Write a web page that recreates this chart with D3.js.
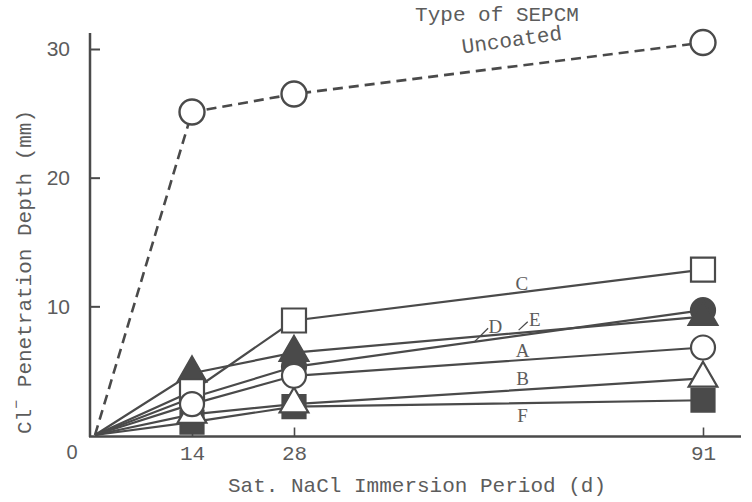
<!DOCTYPE html>
<html>
<head>
<meta charset="utf-8">
<script src="https://cdn.jsdelivr.net/npm/d3@7"></script>
<style>
  body { margin: 0; background: #fff; }
  svg { display: block; }
</style>
</head>
<body>
<svg id="chart" width="752" height="502"></svg>
<script>
// Chloride penetration depth vs. immersion period in saturated NaCl
const days = [0, 14, 28, 91];
const uncoated = [0, 25.1, 26.5, 30.5];
const seriesA = [0, 2.4, 4.6, 6.8];
const seriesB = [0, 1.6, 2.4, 4.4];
const seriesC = [0, 3.4, 8.9, 12.85];
const seriesD = [0, 2.9, 5.3, 9.7];
const seriesE = [0, 4.8, 6.4, 9.2];
const seriesF = [0, 1.0, 2.2, 2.7];
const seriesLabels = ["F", "B", "D", "E", "C", "A"];
const xTickValues = [14, 28, 91];
const yTickValues = [10, 20, 30];

const ink = "#4a4a4a";
const textInk = "#5c5c5c";
const mono = "'Liberation Mono', 'DejaVu Sans Mono', monospace";

const svg = d3.select("#chart");

// The time axis is drawn with uneven spacing between the sampling days
const x = d3.scaleLinear().domain([0, 14, 28, 91]).range([95, 192, 294, 703]);
const y = d3.scaleLinear().domain([0, 30]).range([435, 49]);

// Axis lines
svg.append("line").attr("x1", 90).attr("x2", 90).attr("y1", 33).attr("y2", 437)
  .attr("stroke", ink).attr("stroke-width", 2.5);
svg.append("line").attr("x1", 89).attr("x2", 741).attr("y1", 436.5).attr("y2", 436.5)
  .attr("stroke", ink).attr("stroke-width", 2.5);

// Y axis ticks (pointing inward) and labels
const yAxis = d3.axisLeft(y).tickValues(yTickValues).tickSize(-10).tickPadding(20).tickSizeOuter(0);
const gy = svg.append("g").attr("transform", "translate(90,0)").call(yAxis);
gy.select(".domain").remove();
gy.selectAll(".tick line").attr("stroke", ink).attr("stroke-width", 2);
gy.selectAll(".tick text").attr("fill", textInk)
  .style("font-family", "'Liberation Sans', Arial, sans-serif").style("font-size", "21px");

// X axis ticks (pointing inward) and labels
const xAxis = d3.axisBottom(x).tickValues(xTickValues).tickSize(-9).tickPadding(9).tickSizeOuter(0);
const gx = svg.append("g").attr("transform", "translate(0,436.5)").call(xAxis);
gx.select(".domain").remove();
gx.selectAll(".tick line").attr("stroke", ink).attr("stroke-width", 1.6);
gx.selectAll(".tick text").attr("fill", textInk)
  .style("font-family", mono).style("font-size", "21px");

// Origin label
svg.append("text").attr("x", 72).attr("y", 452).attr("text-anchor", "middle")
  .attr("dominant-baseline", "central").attr("fill", textInk)
  .style("font-family", "'Liberation Sans', Arial, sans-serif").style("font-size", "20px")
  .text("0");

// Axis titles
svg.append("text").attr("x", 417).attr("y", 486).attr("text-anchor", "middle")
  .attr("dominant-baseline", "central").attr("fill", textInk)
  .style("font-family", mono).style("font-size", "21px")
  .text("Sat. NaCl Immersion Period (d)");

const yTitle = svg.append("text")
  .attr("transform", "translate(25,272) rotate(-90)")
  .attr("text-anchor", "middle").attr("dominant-baseline", "central")
  .attr("fill", textInk).style("font-family", mono).style("font-size", "21px");
yTitle.append("tspan").text("Cl");
yTitle.append("tspan").attr("dy", -8).style("font-size", "15px").text("\u2212");
yTitle.append("tspan").attr("dy", 8).text(" Penetration Depth (mm)");

// Legend heading and uncoated label
svg.append("text").attr("x", 497).attr("y", 15).attr("text-anchor", "middle")
  .attr("dominant-baseline", "central").attr("fill", textInk)
  .style("font-family", mono).style("font-size", "21px").text("Type of SEPCM");
svg.append("text").attr("transform", "translate(512,41) rotate(-8)")
  .attr("text-anchor", "middle").attr("dominant-baseline", "central").attr("fill", textInk)
  .style("font-family", mono).style("font-size", "21px").text("Uncoated");

// Marker shapes
const wideTriangle = {
  draw(ctx, size) {
    const h = Math.sqrt(size);
    const w = h * 1.15;
    ctx.moveTo(0, -2 * h / 3);
    ctx.lineTo(w / 2, h / 3);
    ctx.lineTo(-w / 2, h / 3);
    ctx.closePath();
  }
};
const markers = {
  A: { type: d3.symbolCircle, size: Math.PI * 12 * 12, filled: false },
  B: { type: wideTriangle, size: 25 * 25, filled: false },
  C: { type: d3.symbolSquare, size: 24 * 24, filled: false },
  D: { type: d3.symbolCircle, size: Math.PI * 12 * 12, filled: true },
  E: { type: wideTriangle, size: 25 * 25, filled: true },
  F: { type: d3.symbolSquare, size: 23 * 23, filled: true }
};
const seriesValues = { A: seriesA, B: seriesB, C: seriesC, D: seriesD, E: seriesE, F: seriesF };

const line = d3.line().x(d => x(d[0])).y(d => y(d[1]));
const pairs = vals => days.map((d, i) => [d, vals[i]]);

// Coated series lines
const linesG = svg.append("g");
seriesLabels.forEach(k => {
  linesG.append("path").datum(pairs(seriesValues[k])).attr("d", line)
    .attr("fill", "none").attr("stroke", ink).attr("stroke-width", 2.2);
});

// Uncoated series (dashed)
svg.append("path").datum(pairs(uncoated)).attr("d", line)
  .attr("fill", "none").attr("stroke", ink).attr("stroke-width", 2.6)
  .attr("stroke-dasharray", "10,6");

// Markers (origin point carries no marker)
const markG = svg.append("g");
seriesLabels.forEach(k => {
  const m = markers[k];
  const sym = d3.symbol().type(m.type).size(m.size);
  markG.selectAll(null).data(pairs(seriesValues[k]).slice(1)).join("path")
    .attr("transform", d => `translate(${x(d[0])},${y(d[1])})`)
    .attr("d", sym)
    .attr("fill", m.filled ? ink : "#fff")
    .attr("stroke", ink).attr("stroke-width", 2.2);
});
markG.selectAll(null).data(pairs(uncoated).slice(1)).join("circle")
  .attr("cx", d => x(d[0])).attr("cy", d => y(d[1])).attr("r", 12.5)
  .attr("fill", "#fff").attr("stroke", ink).attr("stroke-width", 2.4);

// Series letter labels, placed in data coordinates
const labelSpots = [
  { k: "C", day: 63.1, v: 11.8 },
  { k: "D", day: 59.0, v: 8.4 },
  { k: "E", day: 65.1, v: 8.95 },
  { k: "A", day: 63.2, v: 6.55 },
  { k: "B", day: 63.2, v: 4.4 },
  { k: "F", day: 63.2, v: 1.55 }
];
svg.append("g").selectAll("text").data(labelSpots).join("text")
  .attr("x", d => x(d.day)).attr("y", d => y(d.v))
  .attr("text-anchor", "middle").attr("dominant-baseline", "central")
  .attr("fill", textInk)
  .style("font-family", "'Liberation Serif', 'Times New Roman', serif").style("font-size", "19px")
  .text(d => d.k);

// Leader strokes from D and E labels to their lines
const leaders = [
  { from: [57.9, 8.3], to: [55.7, 7.2] },
  { from: [64.0, 8.8], to: [62.6, 8.15] }
];
svg.append("g").selectAll("line").data(leaders).join("line")
  .attr("x1", d => x(d.from[0])).attr("y1", d => y(d.from[1]))
  .attr("x2", d => x(d.to[0])).attr("y2", d => y(d.to[1]))
  .attr("stroke", ink).attr("stroke-width", 1.3);
</script>
</body>
</html>
